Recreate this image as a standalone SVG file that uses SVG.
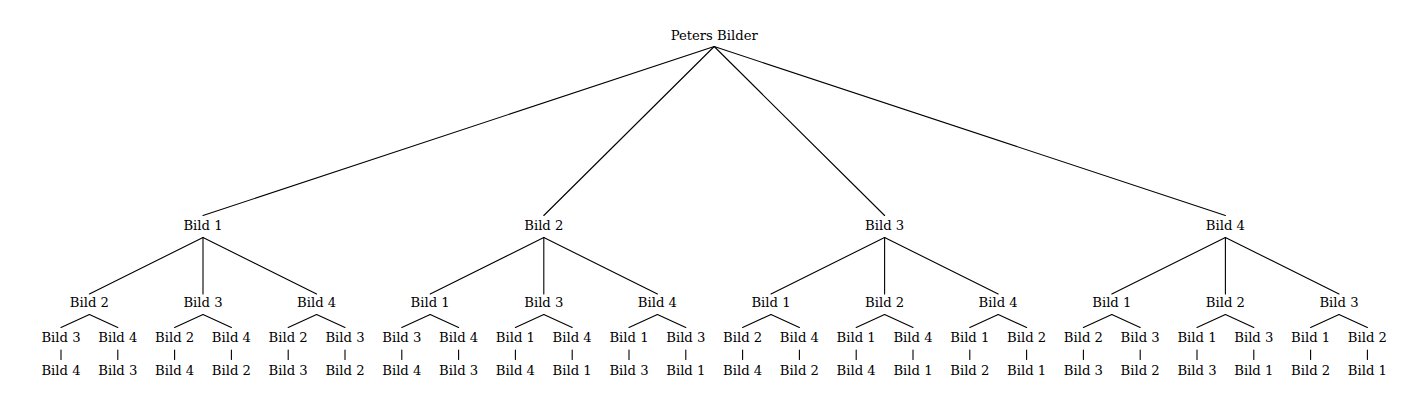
<svg xmlns="http://www.w3.org/2000/svg" width="1419" height="402" viewBox="0 0 1419 402">
<style>
text{font-family:"DejaVu Serif","Liberation Serif",serif;font-size:13.2px;fill:#000;text-anchor:middle}
.e line{stroke:#000;stroke-width:1.1;stroke-linecap:round}
</style>
<rect width="1419" height="402" fill="#fff"/>
<g class="e" id="connectors">
<line x1="714.2" y1="46.5" x2="203" y2="215.5"/>
<line x1="714.2" y1="46.5" x2="543.8" y2="215.5"/>
<line x1="714.2" y1="46.5" x2="884.6" y2="215.5"/>
<line x1="714.2" y1="46.5" x2="1225.4" y2="215.5"/>
<line x1="203" y1="237.5" x2="89.4" y2="294"/>
<line x1="203" y1="237.5" x2="203" y2="294"/>
<line x1="203" y1="237.5" x2="316.6" y2="294"/>
<line x1="543.8" y1="237.5" x2="430.2" y2="294"/>
<line x1="543.8" y1="237.5" x2="543.8" y2="294"/>
<line x1="543.8" y1="237.5" x2="657.4" y2="294"/>
<line x1="884.6" y1="237.5" x2="771" y2="294"/>
<line x1="884.6" y1="237.5" x2="884.6" y2="294"/>
<line x1="884.6" y1="237.5" x2="998.2" y2="294"/>
<line x1="1225.4" y1="237.5" x2="1111.8" y2="294"/>
<line x1="1225.4" y1="237.5" x2="1225.4" y2="294"/>
<line x1="1225.4" y1="237.5" x2="1339" y2="294"/>
<line x1="89.4" y1="314.5" x2="61" y2="327.5"/><line x1="89.4" y1="314.5" x2="117.8" y2="327.5"/>
<line x1="203" y1="314.5" x2="174.6" y2="327.5"/><line x1="203" y1="314.5" x2="231.4" y2="327.5"/>
<line x1="316.6" y1="314.5" x2="288.2" y2="327.5"/><line x1="316.6" y1="314.5" x2="345" y2="327.5"/>
<line x1="430.2" y1="314.5" x2="401.8" y2="327.5"/><line x1="430.2" y1="314.5" x2="458.6" y2="327.5"/>
<line x1="543.8" y1="314.5" x2="515.4" y2="327.5"/><line x1="543.8" y1="314.5" x2="572.2" y2="327.5"/>
<line x1="657.4" y1="314.5" x2="629" y2="327.5"/><line x1="657.4" y1="314.5" x2="685.8" y2="327.5"/>
<line x1="771" y1="314.5" x2="742.6" y2="327.5"/><line x1="771" y1="314.5" x2="799.4" y2="327.5"/>
<line x1="884.6" y1="314.5" x2="856.2" y2="327.5"/><line x1="884.6" y1="314.5" x2="913" y2="327.5"/>
<line x1="998.2" y1="314.5" x2="969.8" y2="327.5"/><line x1="998.2" y1="314.5" x2="1026.6" y2="327.5"/>
<line x1="1111.8" y1="314.5" x2="1083.4" y2="327.5"/><line x1="1111.8" y1="314.5" x2="1140.2" y2="327.5"/>
<line x1="1225.4" y1="314.5" x2="1197" y2="327.5"/><line x1="1225.4" y1="314.5" x2="1253.8" y2="327.5"/>
<line x1="1339" y1="314.5" x2="1310.6" y2="327.5"/><line x1="1339" y1="314.5" x2="1367.4" y2="327.5"/>
<line x1="61" y1="350" x2="61" y2="359.5"/>
<line x1="117.8" y1="350" x2="117.8" y2="359.5"/>
<line x1="174.6" y1="350" x2="174.6" y2="359.5"/>
<line x1="231.4" y1="350" x2="231.4" y2="359.5"/>
<line x1="288.2" y1="350" x2="288.2" y2="359.5"/>
<line x1="345" y1="350" x2="345" y2="359.5"/>
<line x1="401.8" y1="350" x2="401.8" y2="359.5"/>
<line x1="458.6" y1="350" x2="458.6" y2="359.5"/>
<line x1="515.4" y1="350" x2="515.4" y2="359.5"/>
<line x1="572.2" y1="350" x2="572.2" y2="359.5"/>
<line x1="629" y1="350" x2="629" y2="359.5"/>
<line x1="685.8" y1="350" x2="685.8" y2="359.5"/>
<line x1="742.6" y1="350" x2="742.6" y2="359.5"/>
<line x1="799.4" y1="350" x2="799.4" y2="359.5"/>
<line x1="856.2" y1="350" x2="856.2" y2="359.5"/>
<line x1="913" y1="350" x2="913" y2="359.5"/>
<line x1="969.8" y1="350" x2="969.8" y2="359.5"/>
<line x1="1026.6" y1="350" x2="1026.6" y2="359.5"/>
<line x1="1083.4" y1="350" x2="1083.4" y2="359.5"/>
<line x1="1140.2" y1="350" x2="1140.2" y2="359.5"/>
<line x1="1197" y1="350" x2="1197" y2="359.5"/>
<line x1="1253.8" y1="350" x2="1253.8" y2="359.5"/>
<line x1="1310.6" y1="350" x2="1310.6" y2="359.5"/>
<line x1="1367.4" y1="350" x2="1367.4" y2="359.5"/>
</g>
<g id="root"><text x="714.2" y="39.5">Peters Bilder</text></g>
<g id="n1"><text x="203" y="229.5">Bild 1</text></g>
<g id="n2"><text x="543.8" y="229.5">Bild 2</text></g>
<g id="n3"><text x="884.6" y="229.5">Bild 3</text></g>
<g id="n4"><text x="1225.4" y="229.5">Bild 4</text></g>
<g id="n1-2"><text x="89.4" y="307">Bild 2</text></g>
<g id="n1-3"><text x="203" y="307">Bild 3</text></g>
<g id="n1-4"><text x="316.6" y="307">Bild 4</text></g>
<g id="n2-1"><text x="430.2" y="307">Bild 1</text></g>
<g id="n2-3"><text x="543.8" y="307">Bild 3</text></g>
<g id="n2-4"><text x="657.4" y="307">Bild 4</text></g>
<g id="n3-1"><text x="771" y="307">Bild 1</text></g>
<g id="n3-2"><text x="884.6" y="307">Bild 2</text></g>
<g id="n3-4"><text x="998.2" y="307">Bild 4</text></g>
<g id="n4-1"><text x="1111.8" y="307">Bild 1</text></g>
<g id="n4-2"><text x="1225.4" y="307">Bild 2</text></g>
<g id="n4-3"><text x="1339" y="307">Bild 3</text></g>
<g id="n1-2-3"><text x="61" y="342">Bild 3</text></g>
<g id="n1-2-4"><text x="117.8" y="342">Bild 4</text></g>
<g id="n1-3-2"><text x="174.6" y="342">Bild 2</text></g>
<g id="n1-3-4"><text x="231.4" y="342">Bild 4</text></g>
<g id="n1-4-2"><text x="288.2" y="342">Bild 2</text></g>
<g id="n1-4-3"><text x="345" y="342">Bild 3</text></g>
<g id="n2-1-3"><text x="401.8" y="342">Bild 3</text></g>
<g id="n2-1-4"><text x="458.6" y="342">Bild 4</text></g>
<g id="n2-3-1"><text x="515.4" y="342">Bild 1</text></g>
<g id="n2-3-4"><text x="572.2" y="342">Bild 4</text></g>
<g id="n2-4-1"><text x="629" y="342">Bild 1</text></g>
<g id="n2-4-3"><text x="685.8" y="342">Bild 3</text></g>
<g id="n3-1-2"><text x="742.6" y="342">Bild 2</text></g>
<g id="n3-1-4"><text x="799.4" y="342">Bild 4</text></g>
<g id="n3-2-1"><text x="856.2" y="342">Bild 1</text></g>
<g id="n3-2-4"><text x="913" y="342">Bild 4</text></g>
<g id="n3-4-1"><text x="969.8" y="342">Bild 1</text></g>
<g id="n3-4-2"><text x="1026.6" y="342">Bild 2</text></g>
<g id="n4-1-2"><text x="1083.4" y="342">Bild 2</text></g>
<g id="n4-1-3"><text x="1140.2" y="342">Bild 3</text></g>
<g id="n4-2-1"><text x="1197" y="342">Bild 1</text></g>
<g id="n4-2-3"><text x="1253.8" y="342">Bild 3</text></g>
<g id="n4-3-1"><text x="1310.6" y="342">Bild 1</text></g>
<g id="n4-3-2"><text x="1367.4" y="342">Bild 2</text></g>
<g id="n1-2-3-4"><text x="61" y="374.5">Bild 4</text></g>
<g id="n1-2-4-3"><text x="117.8" y="374.5">Bild 3</text></g>
<g id="n1-3-2-4"><text x="174.6" y="374.5">Bild 4</text></g>
<g id="n1-3-4-2"><text x="231.4" y="374.5">Bild 2</text></g>
<g id="n1-4-2-3"><text x="288.2" y="374.5">Bild 3</text></g>
<g id="n1-4-3-2"><text x="345" y="374.5">Bild 2</text></g>
<g id="n2-1-3-4"><text x="401.8" y="374.5">Bild 4</text></g>
<g id="n2-1-4-3"><text x="458.6" y="374.5">Bild 3</text></g>
<g id="n2-3-1-4"><text x="515.4" y="374.5">Bild 4</text></g>
<g id="n2-3-4-1"><text x="572.2" y="374.5">Bild 1</text></g>
<g id="n2-4-1-3"><text x="629" y="374.5">Bild 3</text></g>
<g id="n2-4-3-1"><text x="685.8" y="374.5">Bild 1</text></g>
<g id="n3-1-2-4"><text x="742.6" y="374.5">Bild 4</text></g>
<g id="n3-1-4-2"><text x="799.4" y="374.5">Bild 2</text></g>
<g id="n3-2-1-4"><text x="856.2" y="374.5">Bild 4</text></g>
<g id="n3-2-4-1"><text x="913" y="374.5">Bild 1</text></g>
<g id="n3-4-1-2"><text x="969.8" y="374.5">Bild 2</text></g>
<g id="n3-4-2-1"><text x="1026.6" y="374.5">Bild 1</text></g>
<g id="n4-1-2-3"><text x="1083.4" y="374.5">Bild 3</text></g>
<g id="n4-1-3-2"><text x="1140.2" y="374.5">Bild 2</text></g>
<g id="n4-2-1-3"><text x="1197" y="374.5">Bild 3</text></g>
<g id="n4-2-3-1"><text x="1253.8" y="374.5">Bild 1</text></g>
<g id="n4-3-1-2"><text x="1310.6" y="374.5">Bild 2</text></g>
<g id="n4-3-2-1"><text x="1367.4" y="374.5">Bild 1</text></g>
</svg>
